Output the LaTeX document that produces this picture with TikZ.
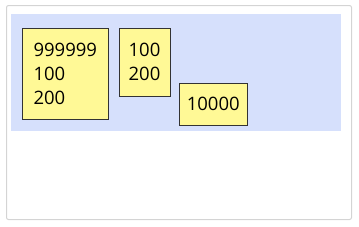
\documentclass[tikz,border=0pt]{standalone}
\usepackage{fontspec}
\setmainfont{Open Sans}
\definecolor{fondo}{RGB}{214,224,252}
\definecolor{nota}{RGB}{255,249,150}
\definecolor{marco}{RGB}{212,212,212}
\tikzset{
  caja/.style={draw=black!80, fill=nota, line width=1pt, anchor=north west,
    align=left, inner sep=0pt, font=\fontsize{18.5}{23.8}\selectfont}
}
\begin{document}
\begin{tikzpicture}[x=1pt,y=-1pt]
  \useasboundingbox (0,0) rectangle (359,226);
  % Marco
  \draw[marco, rounded corners=2pt, line width=1pt] (6.5,5.5) rectangle (351.5,219.5);

  % Fondo
  \fill[fondo] (11,14) rectangle (341,131);

  % Notas
  \node[caja, minimum width=85.5, minimum height=91] (notaA) at (22,28) {999999\\100\\200};
  \node[caja, minimum width=51, minimum height=67.5] (notaB) at (118.5,28) {100\\200};
  \node[caja, minimum width=67.5, minimum height=41.5] (notaC) at (179,83) {10000};
\end{tikzpicture}
\end{document}
